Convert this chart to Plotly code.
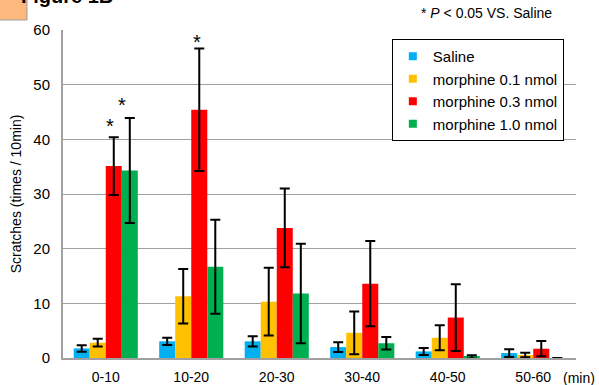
import plotly.graph_objects as go

categories = ["0-10", "10-20", "20-30", "30-40", "40-50", "50-60"]
series_names = ["Saline", "morphine 0.1 nmol", "morphine 0.3 nmol", "morphine 1.0 nmol"]
saline = [1.75, 3.05, 3.05, 2.0, 1.2, 0.9]
saline_err = [0.6, 0.65, 0.95, 0.9, 0.65, 0.7]
m01 = [2.8, 11.3, 10.3, 4.6, 3.7, 0.55]
m01_err = [0.7, 5.0, 6.2, 3.9, 2.3, 0.4]
m03 = [35.1, 45.4, 23.8, 13.6, 7.4, 1.7]
m03_err = [5.3, 11.2, 7.2, 7.8, 6.1, 1.4]
m10 = [34.3, 16.7, 11.8, 2.7, 0.2, 0.0]
m10_err = [9.6, 8.6, 9.1, 1.15, 0.3, 0.0]
colors = ["#00b0f0", "#ffc000", "#ff0000", "#00b050"]

values = [saline, m01, m03, m10]
errors = [saline_err, m01_err, m03_err, m10_err]

fig = go.Figure()
for name, v, e, c in zip(series_names, values, errors, colors):
    fig.add_trace(go.Bar(
        x=categories, y=v, name=name, marker=dict(color=c, line=dict(width=0)),
        error_y=dict(type="data", array=e, visible=True, color="black", thickness=2, width=5),
        showlegend=False,
    ))
# legend entries with small square symbols
for name, c in zip(series_names, colors):
    fig.add_trace(go.Scatter(x=[None], y=[None], mode="markers", name=name,
                             marker=dict(symbol="square", size=8, color=c)))

# significance asterisks: (category, series index, x shift px, y shift px)
sig = [("0-10", 2, -4, -2), ("0-10", 3, -8, 0), ("10-20", 2, -2.5, -6)]
for cat, si, xs, ys in sig:
    i = categories.index(cat)
    fig.add_annotation(x=cat, y=values[si][i] + errors[si][i], xref="x", yref="y",
                       text="*", showarrow=False, xshift=xs + (si - 1.5) * 16,
                       yanchor="bottom", yshift=ys, font=dict(size=20, color="black"))

fig.add_annotation(x=1.0, y=1.02, xref="paper", yref="paper", xanchor="right", yanchor="bottom",
                   text="* <i>P</i> < 0.05 VS. Saline", showarrow=False, xshift=-22,
                   font=dict(size=14, color="black"))
fig.add_annotation(x=1.041, y=-0.061, xref="paper", yref="paper", xanchor="right", yanchor="middle",
                   text="(min)", showarrow=False, font=dict(size=14, color="black"))
fig.add_annotation(x=0, y=1, xref="paper", yref="paper", xanchor="left", yanchor="bottom",
                   text="<b>Figure 1B</b>", showarrow=False, xshift=-44, yshift=21,
                   font=dict(size=20, color="black"))
fig.add_shape(type="rect", xref="paper", yref="paper", x0=-0.125, x1=-0.0702, y0=1.0305, y1=1.10,
              fillcolor="#fdb97d", line=dict(color="#9a9a9a", width=1))

fig.update_layout(
    width=599, height=385,
    margin=dict(l=63, r=23, t=30, b=27, autoexpand=False),
    paper_bgcolor="white", plot_bgcolor="white",
    barmode="group", bargap=0.25, bargroupgap=0,
    font=dict(family="Liberation Sans, Arial, sans-serif", size=14, color="black"),
    legend=dict(x=0.641, y=0.9726, xanchor="left", yanchor="top",
                bordercolor="black", borderwidth=1, bgcolor="white",
                font=dict(size=15), itemwidth=30, tracegroupgap=0),
    showlegend=True,
)
fig.update_xaxes(showline=True, linecolor="#a0a0a0", linewidth=2, ticks="",
                 tickfont=dict(size=14), automargin=False, ticklabelstandoff=5)
fig.update_yaxes(range=[0, 60], dtick=10, showgrid=True, gridcolor="#a0a0a0", gridwidth=1.3,
                 showline=True, linecolor="#a0a0a0", linewidth=2, zeroline=False,
                 title=dict(text="Scratches (times / 10min)", font=dict(size=14), standoff=8),
                 tickfont=dict(size=15), ticks="", automargin=False, ticklabelstandoff=8)
fig.write_html("out.html", config={"displayModeBar": False},
               post_script="document.body.style.margin='0px';")
